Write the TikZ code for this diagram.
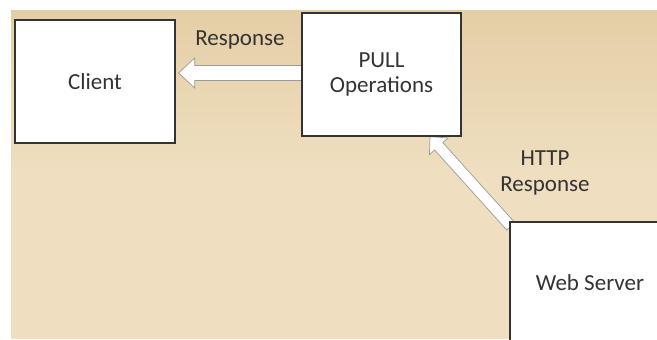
\documentclass[tikz,border=0pt]{standalone}
\usepackage{fontspec}
\setmainfont{Carlito}
\usetikzlibrary{calc}
\definecolor{parch}{HTML}{EFDFC0}
\definecolor{parchdark}{HTML}{E4CEA5}
\definecolor{boxline}{HTML}{333333}
\definecolor{arrline}{HTML}{9A9A9A}
\definecolor{txt}{HTML}{333333}
\pgfdeclarelayer{back}
\pgfdeclarelayer{mid}
\pgfsetlayers{back,mid,main}
\newcommand\blockarr[5]{%
  \coordinate (H) at ($(#2)!#5!(#1)$);
  \draw[blockarrow] ($(#1)!#3!90:(#2)$) -- ($(H)!#3!-90:(#1)$) -- ($(H)!#4!-90:(#1)$) -- (#2)
    -- ($(H)!#4!90:(#1)$) -- ($(H)!#3!90:(#1)$) -- ($(#1)!#3!-90:(#2)$) -- cycle;}
\begin{document}
\begin{tikzpicture}[x=1pt,y=-1pt,
  box/.style={draw=boxline, line width=1.3pt, fill=white, inner sep=0pt, text=txt,
    font=\fontsize{23}{25}\selectfont, align=center},
  lbl/.style={text=txt, font=\fontsize{23}{26}\selectfont, align=center, inner sep=0pt},
  blockarrow/.style={draw=arrline, line width=0.7pt, fill=white, line join=miter}]
\path[use as bounding box] (0,0) rectangle (657,340);
\clip (0,0) rectangle (657,340);
\begin{pgfonlayer}{back}
  \fill[white] (0,0) rectangle (657,340);
  \shade[top color=parchdark, bottom color=parch, middle color=parch] (11,10) rectangle (657,338);
\end{pgfonlayer}
\node[box, minimum width=160pt, minimum height=123pt] (client) at (95,81.5) {Client};
\node[box, minimum width=159pt, minimum height=123pt] (pull) at (381.5,74.5) {PULL\\Operations};
\node[box, minimum width=160pt, minimum height=122pt] (ws) at (590,283) {Web Server};
\node[lbl] (resp) at (240,40) {Response};
\node[lbl] (http) at (545,173) {HTTP\\Response};
\coordinate (rtail) at ($(pull.west)+(0,-1.5)$);
\coordinate (rtip) at ($(client.east)+(3,-8.5)$);
\coordinate (htail) at ($(ws.north west)+(1.5,5)$);
\coordinate (htip) at ($(pull.south)+(48.5,0)$);
\begin{pgfonlayer}{mid}
  \blockarr{rtail}{rtip}{7.5pt}{15pt}{16pt}
  \blockarr{htail}{htip}{5.5pt}{12.5pt}{13pt}
\end{pgfonlayer}
\end{tikzpicture}
\end{document}
